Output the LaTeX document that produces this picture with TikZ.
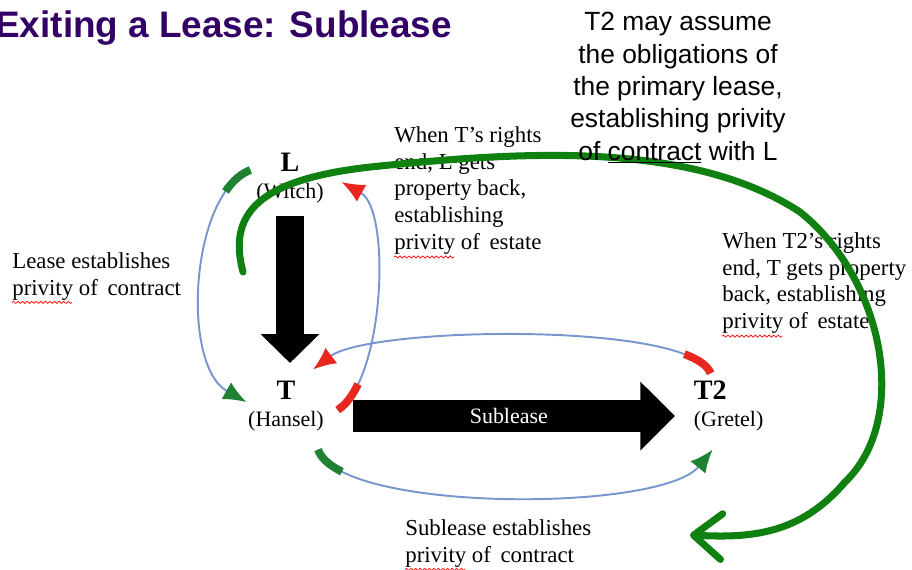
\documentclass[tikz,border=0pt]{standalone}
\usepackage{fontspec}
\setmainfont{Liberation Serif}
\setsansfont{Liberation Sans}
\usepackage{tikz}
\usetikzlibrary{arrows.meta,calc,decorations.pathmorphing}

\definecolor{titlepurple}{RGB}{51,0,102}
\definecolor{bigleaf}{RGB}{16,128,16}
\definecolor{arcgreen}{RGB}{30,130,50}
\definecolor{arcred}{RGB}{232,40,30}
\definecolor{arcblue}{RGB}{120,150,205}

\begin{document}
\begin{tikzpicture}[
  x=0.02cm, y=-0.02cm,
  party/.style={align=center, inner sep=2pt, font=\fontsize{12.5}{15}\selectfont},
  note/.style={anchor=north west, inner sep=0pt, align=left, font=\fontsize{13}{15.3}\selectfont},
  spellwave/.style={draw=red, line width=0.4pt, decorate,
    decoration={snake, segment length=2.6pt, amplitude=0.6pt}},
  downblock/.style={line width=16.4pt, -{Triangle[length=16.4pt, width=32.3pt]}},
  sideblock/.style={line width=18.7pt, -{Triangle[length=19.8pt, width=38pt]}},
  arcpath/.style={draw=arcblue, line width=1.1pt},
  greenarc/.style={arcpath, -{Latex[length=13pt, width=11pt, color=arcgreen]},
    postaction={draw=arcgreen, line width=4.5pt, dash pattern=on 19pt off 2000pt, -}},
  redarc/.style={arcpath, -{Latex[length=13pt, width=11pt, color=arcred]},
    postaction={draw=arcred, line width=4.5pt, dash pattern=on 19pt off 2000pt, -}},
  bigarrow/.style={draw=bigleaf, line width=4pt, line cap=round,
    -{Straight Barb[length=16pt, width=26pt, round]}}
]
\useasboundingbox (0,0) rectangle (912,569);

% title
\node[anchor=base west, inner sep=0pt, text=titlepurple,
  font=\sffamily\bfseries\fontsize{21}{25}\selectfont] (title) at (-5,37) {Exiting a Lease: Sublease};

% parties
\node[party] (L) at (290,178) {{\fontsize{16}{15}\selectfont\bfseries L}\\(Witch)};
\node[party] (T) at (286,406) {{\fontsize{16}{15}\selectfont\bfseries T}\\(Hansel)};
\node[party, anchor=west, align=left] (T2) at (690,406) {{\fontsize{16}{15}\selectfont\bfseries T2}\\(Gretel)};

% notes
\node[note] (leasenote) at (12,252) {Lease establishes\\privity of\, contract};
\node[note] (Tnote) at (394,126) {When T's rights\\end, L gets\\property back,\\establishing\\privity of\, estate};
\node[note] (T2note) at (722,232) {When T2's rights\\end, T gets property\\back, establishing\\privity of\, estate};
\node[note] (subnote) at (405,519) {Sublease establishes\\privity of\, contract};
\foreach \n in {leasenote,Tnote,T2note,subnote}
  \draw[spellwave] ($(\n.south west)+(0,2)$) -- ++(60,0);

% block arrows
\draw[downblock, shorten <=5.4pt, shorten >=8.2pt] (L.south) -- (L.south |- T.north);
\draw[sideblock, shorten <=14.5pt, shorten >=8.5pt] ([yshift=-5.7pt]T.east) --
  node[text=white, font=\fontsize{12.5}{15}\selectfont] (sub) {Sublease} ([yshift=-5.7pt]T2.west);

% curved arrows
\draw[greenarc] ($(L.west)+(-2,-8)$) .. controls +(-60,23) and +(-66,-37) .. ($(T.west)+(2,-4)$);
\draw[redarc] ($(T.east)+(10,4)$) .. controls +(47,-30) and +(50,28) .. ($(L.east)+(14,4)$);
\draw[redarc] ($(T2.north)+(-18,-4)$) .. controls +(-20,-52) and +(57,-43) .. ($(T.north)+(27,-8)$);
\draw[greenarc] ($(T.south)+(32,15)$) .. controls +(22,63) and +(-52,63) .. ($(T2.south)+(-16,15)$);

% big green arrow
\coordinate (bigstart) at (243,272);
\coordinate (bigend) at (690,535);
\draw[bigarrow] (bigstart) .. controls (228,215) and (255,178) .. (380,166)
  .. controls (520,152) and (690,140) .. (800,212)
  .. controls (885,280) and (910,420) .. (845,482)
  .. controls (800,535) and (750,538) .. (bigend);

\node[font=\sffamily\fontsize{15}{18.4}\selectfont, align=center, anchor=north, inner sep=0pt]
  (assume) at (678,12) {T2 may assume\\the obligations of\\the primary lease,\\establishing privity\\of \underline{contract} with L};
\end{tikzpicture}
\end{document}
